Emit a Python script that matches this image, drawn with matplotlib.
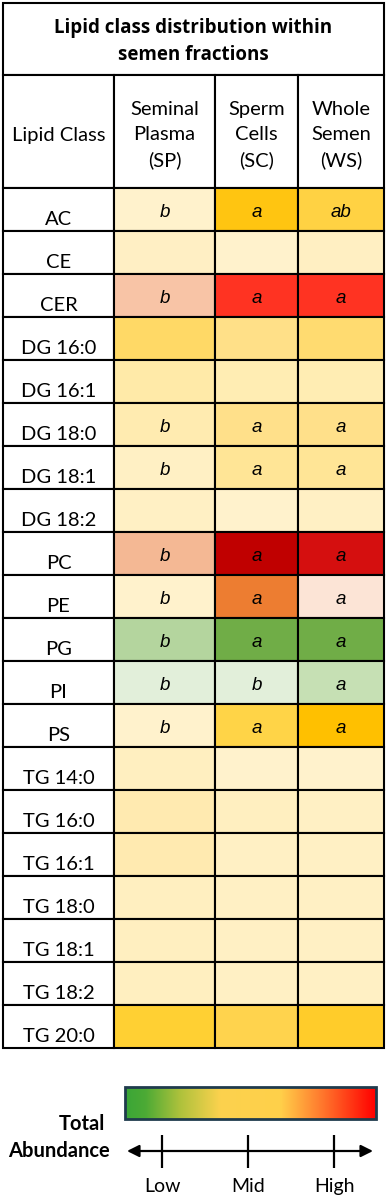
import numpy as np
import matplotlib
matplotlib.use('Agg')
import matplotlib.pyplot as plt
from matplotlib.patches import Rectangle
from matplotlib.colors import LinearSegmentedColormap

title_lines = ['Lipid class distribution within', 'semen fractions']
row_header = 'Lipid Class'
fractions = [['Seminal', 'Plasma', '(SP)'],
             ['Sperm', 'Cells', '(SC)'],
             ['Whole', 'Semen', '(WS)']]

lipid_classes = ['AC', 'CE', 'CER', 'DG 16:0', 'DG 16:1', 'DG 18:0', 'DG 18:1',
                 'DG 18:2', 'PC', 'PE', 'PG', 'PI', 'PS', 'TG 14:0', 'TG 16:0',
                 'TG 16:1', 'TG 18:0', 'TG 18:1', 'TG 18:2', 'TG 20:0']

# cell shading (abundance) per fraction
sp_colors = ['#FFF2CC', '#FFEFC4', '#F8C4A6', '#FFD966', '#FFEAA8', '#FFEBB0',
             '#FFF0C4', '#FFF0C4', '#F4B894', '#FFF2CC', '#B4D59E', '#E2EFDA',
             '#FFF2CC', '#FFEFC0', '#FFEAB0', '#FFEAB0', '#FFEFC0', '#FFEFC0',
             '#FFEFC0', '#FFD033']
sc_colors = ['#FFC511', '#FFF2CC', '#FF3322', '#FFE088', '#FFEDB3', '#FFE08A',
             '#FFE596', '#FFF2CC', '#C00000', '#ED7D31', '#70AD47', '#E2EFDA',
             '#FFD447', '#FFF2CC', '#FFEFC0', '#FFF0C4', '#FFF0C4', '#FFF0C4',
             '#FFF0C4', '#FFD34D']
ws_colors = ['#FFD243', '#FFEFC2', '#FF3322', '#FFDB70', '#FFEDB3', '#FFE08A',
             '#FFE596', '#FFF0C4', '#D50F0F', '#FCE4D6', '#70AD47', '#C6E0B4',
             '#FFC000', '#FFF2CC', '#FFF0C4', '#FFF0C4', '#FFF0C4', '#FFF0C4',
             '#FFF0C4', '#FFCC2A']

# significance letters
sp_letters = ['b', '', 'b', '', '', 'b', 'b', '', 'b', 'b', 'b', 'b', 'b',
              '', '', '', '', '', '', '']
sc_letters = ['a', '', 'a', '', '', 'a', 'a', '', 'a', 'a', 'a', 'b', 'a',
              '', '', '', '', '', '', '']
ws_letters = ['ab', '', 'a', '', '', 'a', 'a', '', 'a', 'a', 'a', 'a', 'a',
              '', '', '', '', '', '', '']

scale_title = ['Total', 'Abundance']
scale_labels = ['Low', 'Mid', 'High']
scale_stops = [0.0, 0.08, 0.22, 0.38, 0.62, 0.78, 1.0]
scale_colors = ['#3AA637', '#4CAA35', '#AFC23C', '#FCD24E', '#FFD04A', '#FF7B2E', '#FF0000']

W, H = 387, 1199
col_edges = [3, 114, 215, 298, 384]
table_top = 3
title_bottom = 75
header_bottom = 188
row_h = 43.0
lw = 1.5

fig = plt.figure(figsize=(W / 100, H / 100), dpi=100)
ax = fig.add_axes([0, 0, 1, 1])
ax.set_xlim(0, W)
ax.set_ylim(H, 0)
ax.axis('off')

label_font = 'Lato'

# title box
ax.add_patch(Rectangle((col_edges[0], table_top), col_edges[-1] - col_edges[0],
                       title_bottom - table_top, facecolor='white', edgecolor='black', lw=lw))
for k, line in enumerate(title_lines):
    ax.text((col_edges[0] + col_edges[-1]) / 2, 33 + 27 * k, line, ha='center', va='baseline',
            fontsize=13.5, fontweight='bold', family='Open Sans')

# header row
for j in range(4):
    ax.add_patch(Rectangle((col_edges[j], title_bottom), col_edges[j + 1] - col_edges[j],
                           header_bottom - title_bottom, facecolor='white', edgecolor='black', lw=lw))
ax.text((col_edges[0] + col_edges[1]) / 2, 140.5, row_header, ha='center', va='baseline',
        fontsize=14.5, family=label_font)
for j, lines in enumerate(fractions):
    xc = (col_edges[j + 1] + col_edges[j + 2]) / 2
    for k, line in enumerate(lines):
        ax.text(xc, 115 + 25.5 * k, line, ha='center', va='baseline',
                fontsize=14.5, family=label_font)

# body
cols = [(sp_colors, sp_letters), (sc_colors, sc_letters), (ws_colors, ws_letters)]
for i, name in enumerate(lipid_classes):
    top = header_bottom + i * row_h
    ax.add_patch(Rectangle((col_edges[0], top), col_edges[1] - col_edges[0], row_h,
                           facecolor='white', edgecolor='black', lw=lw))
    ax.text((col_edges[0] + col_edges[1]) / 2, top + 37, name, ha='center', va='baseline',
            fontsize=14.5, family=label_font)
    for j, (colors, letters) in enumerate(cols):
        x0 = col_edges[j + 1]
        ax.add_patch(Rectangle((x0, top), col_edges[j + 2] - x0, row_h,
                               facecolor=colors[i], edgecolor='black', lw=lw))
        if letters[i]:
            ax.text((x0 + col_edges[j + 2]) / 2, top + 29, letters[i], ha='center',
                    va='baseline', fontsize=13.5, style='italic', family='Liberation Sans')

# legend colour bar
cmap = LinearSegmentedColormap.from_list('abund', list(zip(scale_stops, scale_colors)))
grad = np.linspace(0, 1, 256).reshape(1, -1)
bx0, bx1, by0, by1 = 125, 376, 1087, 1119
ax.imshow(grad, cmap=cmap, aspect='auto', extent=(bx0, bx1, by1, by0), zorder=2)
ax.add_patch(Rectangle((bx0, by0), bx1 - bx0, by1 - by0, facecolor='none',
                       edgecolor='#1F3B4D', lw=2, zorder=3))
ax.set_xlim(0, W)
ax.set_ylim(H, 0)

ax.text(105, 1130, scale_title[0], ha='right', va='baseline', fontsize=14.5,
        fontweight='bold', family=label_font)
ax.text(110, 1157, scale_title[1], ha='right', va='baseline', fontsize=14.5,
        fontweight='bold', family=label_font)

ay = 1151
ax.annotate('', xy=(373, ay), xytext=(127, ay),
            arrowprops=dict(arrowstyle='<|-|>', color='black', lw=1.6, mutation_scale=18,
                            shrinkA=0, shrinkB=0))
tick_x = np.linspace(162, 334, len(scale_labels))
ax.vlines(tick_x, 1135, 1168, color='black', lw=1.6)
for x, lab in zip(tick_x, scale_labels):
    ax.text(x, 1192, lab, ha='center', va='baseline', fontsize=14, family=label_font)

fig.savefig('out.png', dpi=100)
